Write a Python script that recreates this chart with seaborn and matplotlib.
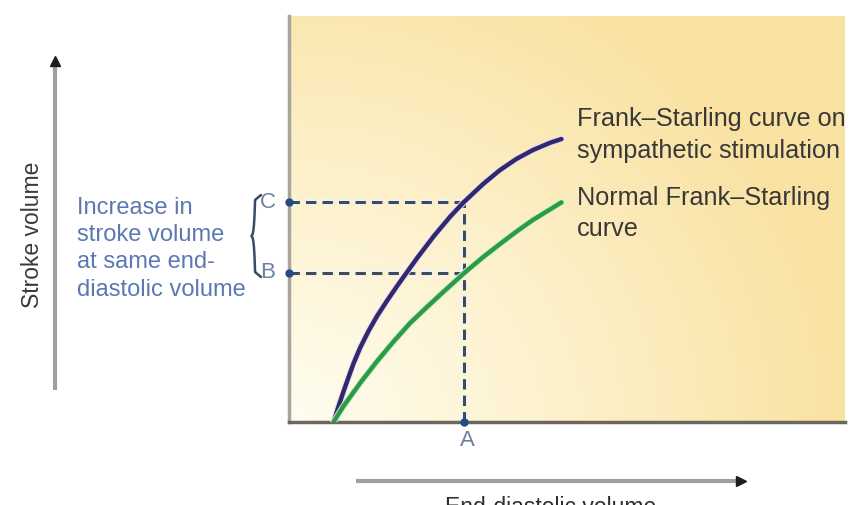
import numpy as np
import pandas as pd
import matplotlib
matplotlib.use("Agg")
import matplotlib.pyplot as plt
import matplotlib.patheffects as pe
from matplotlib.colors import LinearSegmentedColormap
import seaborn as sns

sns.set_style("white")
plt.rcParams['font.family'] = ['Liberation Sans', 'DejaVu Sans']

# Kurva Frank-Starling (satuan relatif)
edv_symp = [8.0, 8.9, 9.8, 10.7, 11.6, 12.8, 14.3, 15.8, 17.6, 19.4, 20.9,
            23.0, 26.0, 29.0, 31.4, 34.9, 37.9, 40.9, 43.9, 47.0, 49.0]
sv_symp = [0.0, 3.8, 7.5, 11.0, 14.4, 18.3, 22.4, 26.0, 29.8, 33.4, 36.3,
           40.3, 45.7, 50.6, 54.1, 58.6, 62.0, 64.8, 67.0, 68.8, 69.7]
edv_norm = [8.0, 9.8, 12.8, 15.8, 18.8, 21.8, 24.8, 27.8, 31.6,
            34.9, 37.9, 40.9, 43.9, 47.0, 49.0]
sv_norm = [0.0, 3.9, 9.6, 14.9, 19.8, 24.4, 28.3, 32.1, 36.8,
           40.6, 43.8, 46.9, 49.8, 52.4, 54.1]

# Titik referensi A, B, C
edv_A = 31.5
sv_B = 36.8
sv_C = 54.2

df = pd.concat([
    pd.DataFrame({'EDV': edv_symp, 'SV': sv_symp, 'Curve': 'sympathetic'}),
    pd.DataFrame({'EDV': edv_norm, 'SV': sv_norm, 'Curve': 'normal'}),
])

W, H = 858, 506
fig = plt.figure(figsize=(W / 100, H / 100), dpi=100)

# area plot (pixel: x 289-845, y 17-423)
ax = fig.add_axes([289 / W, (H - 423) / H, 556 / W, 406 / H])
ax.set_xlim(0, 100)
ax.set_ylim(0, 100)

# latar gradasi kuning
cmap = LinearSegmentedColormap.from_list('bg', ['#fffdf0', '#fdf1cb', '#f9e2a2'])
gx, gy = np.meshgrid(np.linspace(0, 1, 200), np.linspace(0, 1, 200))
grad = np.clip(np.sqrt((gx * 1.1) ** 2 + (gy * 0.9) ** 2) / 1.1, 0, 1)
ax.imshow(grad, extent=[0, 100, 0, 100], origin='lower', cmap=cmap,
          aspect='auto', zorder=0)

# garis putus-putus A, B, C
halo = [pe.withStroke(linewidth=4, foreground='#eef6ff')]
dash_kw = dict(color='#3c4b5e', lw=2.2, dashes=(3.4, 2.0), zorder=2,
               path_effects=halo)
ax.plot([edv_A, edv_A], [0, sv_C], **dash_kw)
ax.plot([0, edv_A], [sv_C, sv_C], **dash_kw)
ax.plot([0, edv_A], [sv_B, sv_B], **dash_kw)
ax.plot([0, 0, edv_A], [sv_C, sv_B, 0], 'o', color='#264a86', ms=5,
        clip_on=False, zorder=4)

sns.lineplot(data=df, x='EDV', y='SV', hue='Curve', sort=False,
             palette={'sympathetic': '#33286b', 'normal': '#2e9a48'},
             lw=3.2, legend=False, ax=ax, zorder=3)
glow = {'sympathetic': '#e6def5', 'normal': '#c8f2c8'}
for line, key in zip(ax.lines[-2:], ['sympathetic', 'normal']):
    line.set_path_effects([pe.withStroke(linewidth=4.6, foreground=glow[key])])
    line.set_solid_joinstyle('round')

ax.set_xlabel('')
ax.set_ylabel('')
ax.set_xticks([])
ax.set_yticks([])
for s in ['top', 'right']:
    ax.spines[s].set_visible(False)
ax.spines['left'].set_color('#aaa59c')
ax.spines['left'].set_linewidth(2.5)
ax.spines['bottom'].set_color('#6b675f')
ax.spines['bottom'].set_linewidth(2.5)

# lapisan anotasi dalam piksel
ov = fig.add_axes([0, 0, 1, 1], facecolor='none')
ov.set_xlim(0, W)
ov.set_ylim(H, 0)
ov.axis('off')

txt_kw = dict(fontsize=18.2, color='#383838', ha='left', va='center')
ov.text(577, 119, 'Frank–Starling curve on', **txt_kw)
ov.text(577, 151, 'sympathetic stimulation', **txt_kw)
ov.text(577, 198, 'Normal Frank–Starling', **txt_kw)
ov.text(577, 229, 'curve', **txt_kw)

# label huruf
lab_kw = dict(fontsize=16, color='#6d7ea0', ha='center', va='center')
ov.text(268, 202, 'C', **lab_kw)
ov.text(268, 273, 'B', **lab_kw)
ov.text(467, 441, 'A', **lab_kw)

# teks biru di kiri
blue_kw = dict(fontsize=17, color='#5b78b4', ha='left', va='center')
ov.text(77, 208, 'Increase in', **blue_kw)
ov.text(77, 235, 'stroke volume', **blue_kw)
ov.text(77, 262, 'at same end-', **blue_kw)
ov.text(77, 290, 'diastolic volume', **blue_kw)

# kurung kurawal
by = np.linspace(0, 1, 100)
bx = 5 * np.abs(by - 0.5) ** 0.15
bx[by < 0.06] = bx[by < 0.06] + (0.06 - by[by < 0.06]) * 60
bx[by > 0.94] = bx[by > 0.94] + (by[by > 0.94] - 0.94) * 60
ov.plot(248 + bx * 1.6, 196 + by * 82, color='#3a4a66', lw=1.8)

# sumbu berpanah (batang abu-abu, kepala hitam)
ov.plot([55, 55], [66, 391], color='#a0a0a0', lw=3, solid_capstyle='butt')
ov.plot([55], [62], marker='^', color='#1e1e1e', ms=7)
ov.plot([356, 737], [482, 482], color='#a0a0a0', lw=3, solid_capstyle='butt')
ov.plot([741], [482], marker='>', color='#1e1e1e', ms=7)
ov.text(33, 235, 'Stroke volume', rotation=90, fontsize=16.5, color='#3a3a3a',
        ha='center', va='center')
ov.text(551, 496, 'End-diastolic volume', fontsize=16.5, color='#2e2e2e',
        ha='center', va='top')

fig.savefig('out.png', dpi=100)
